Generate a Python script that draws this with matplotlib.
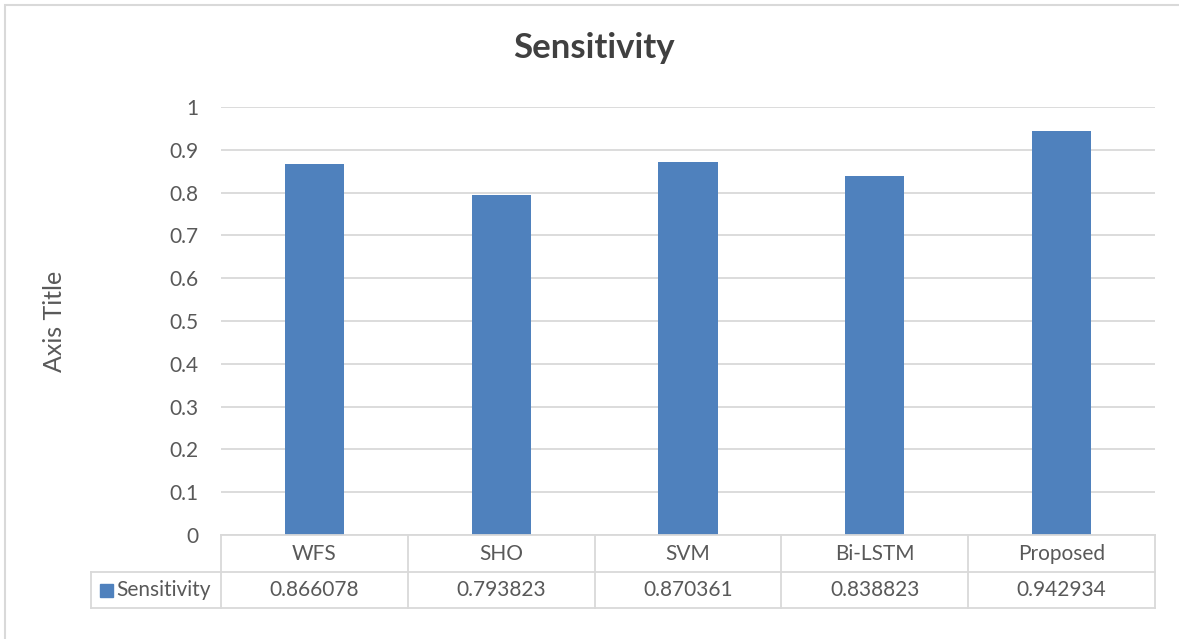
import matplotlib
matplotlib.use("Agg")
import matplotlib.pyplot as plt
from matplotlib.patches import Rectangle

plt.rcParams.update({
    "font.family": ["Lato", "DejaVu Sans"],
    "font.size": 15,
})

categories = ["WFS", "SHO", "SVM", "Bi-LSTM", "Proposed"]
sensitivity = [0.866078, 0.793823, 0.870361, 0.838823, 0.942934]
series_name = "Sensitivity"
yticks = [0, 0.1, 0.2, 0.3, 0.4, 0.5, 0.6, 0.7, 0.8, 0.9, 1]

W, H = 1179, 639
BAR = "#4f81bd"
TXT = "#595959"
GRID = "#d9d9d9"
FS = 15

fig = plt.figure(figsize=(W / 100, H / 100), dpi=100)
ax = fig.add_axes([221 / W, 104 / H, 934 / W, 428 / H])

x = list(range(len(categories)))
ax.bar(x, sensitivity, width=0.316, color=BAR, zorder=2)
ax.set_xlim(-0.5, len(categories) - 0.5)
ax.set_ylim(0, 1)
ax.set_yticks(yticks)
ax.set_yticklabels([f"{t:g}" for t in yticks], color=TXT, fontsize=FS)
ax.tick_params(axis="y", length=0, pad=16)
ax.set_xticks([])
ax.grid(axis="y", color=GRID, linewidth=1.3, zorder=0)
for s in ax.spines.values():
    s.set_visible(False)
ax.set_ylabel("Axis Title", color=TXT, fontsize=18, labelpad=0)
ax.yaxis.set_label_coords(-155 / 934, 0.5)

# data table under the plot area
tr = ax.get_xaxis_transform()
cw = 934 / len(categories)
r1 = -37 / 428
r2 = -73 / 428
left = -0.5 - 130 / cw
n = len(categories)
lk = dict(color=GRID, linewidth=1.3, transform=tr, clip_on=False, zorder=3)
ax.plot([-0.5, n - 0.5], [0, 0], **lk)
ax.plot([left, n - 0.5], [r1, r1], **lk)
ax.plot([left, n - 0.5], [r2, r2], **lk)
for b in range(n + 1):
    ax.plot([b - 0.5, b - 0.5], [0, r2], **lk)
ax.plot([left, left], [r1, r2], **lk)
for i, c in enumerate(categories):
    ax.text(i, r1 / 2, c, transform=tr, ha="center", va="center",
            color=TXT, fontsize=FS)
    ax.text(i, (r1 + r2) / 2, f"{sensitivity[i]:g}", transform=tr,
            ha="center", va="center", color=TXT, fontsize=FS)
ax.add_patch(Rectangle((left + 9 / cw, (r1 + r2) / 2 - 6.5 / 428), 13 / cw, 13 / 428,
                       transform=tr, color=BAR, clip_on=False))
ax.text(left + 25 / cw, (r1 + r2) / 2, series_name, transform=tr,
        ha="left", va="center", color=TXT, fontsize=FS)

fig.text(594 / W, 1 - 48 / H, "Sensitivity", ha="center", va="center",
         fontsize=25, fontweight="bold", color="#404040")

# chart frame
fig.add_artist(Rectangle((5 / W, -0.05), 1.1, 1 - 5 / H + 0.05,
                         transform=fig.transFigure, fill=False,
                         edgecolor=GRID, linewidth=1.5))

fig.savefig("out.png", dpi=100)
